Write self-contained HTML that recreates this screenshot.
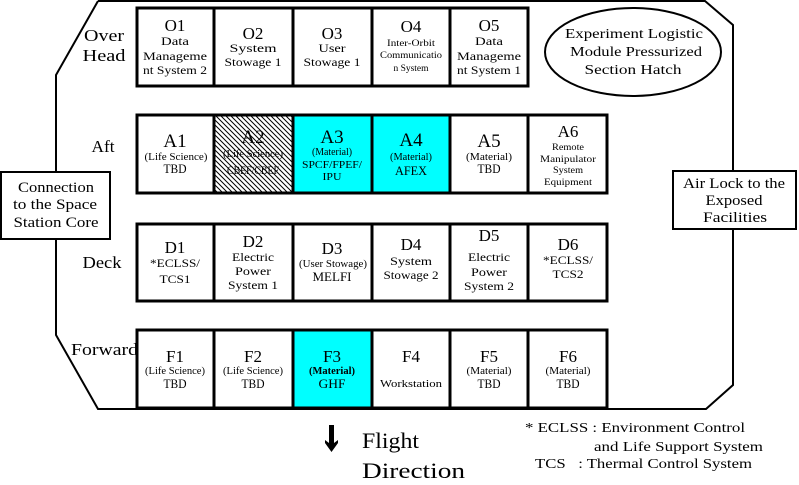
<!DOCTYPE html>
<html>
<head>
<meta charset="utf-8">
<style>
  html,body{margin:0;padding:0;background:#fff;}
  svg{display:block;}
  text{font-family:"Liberation Serif","Noto Serif CJK SC",serif;fill:#000;}
</style>
</head>
<body>
<svg width="799" height="485" viewBox="0 0 799 485" xmlns="http://www.w3.org/2000/svg" font-family="Liberation Serif, serif">
  <defs>
    <pattern id="hatch" patternUnits="userSpaceOnUse" width="5" height="5">
      <rect width="5" height="5" fill="#fff"/>
      <path d="M-1,-1 L6,6 M-1,4 L1,6 M4,-1 L6,1" stroke="#000" stroke-width="1"/>
    </pattern>
  </defs>

  <!-- outline of module -->
  <polyline points="98,1 705,1 733,25 733,385 706,409 98,409 56,335 56,75 98,1" fill="none" stroke="#000" stroke-width="2"/>

  <!-- fills -->
  <rect x="214" y="115" width="79" height="78" fill="url(#hatch)"/>
  <rect x="293" y="115" width="157" height="78" fill="#00ffff"/>
  <rect x="293" y="330" width="79" height="78" fill="#00ffff"/>

  <g fill="none" stroke="#000" stroke-width="3">
    <!-- O row -->
    <rect x="137" y="8" width="391" height="78"/>
    <line x1="214" y1="8" x2="214" y2="86"/>
    <line x1="293" y1="8" x2="293" y2="86"/>
    <line x1="372" y1="8" x2="372" y2="86"/>
    <line x1="450" y1="8" x2="450" y2="86"/>
    <!-- A row -->
    <rect x="137" y="115" width="470" height="78"/>
    <line x1="214" y1="115" x2="214" y2="193"/>
    <line x1="293" y1="115" x2="293" y2="193"/>
    <line x1="372" y1="115" x2="372" y2="193"/>
    <line x1="450" y1="115" x2="450" y2="193"/>
    <line x1="528" y1="115" x2="528" y2="193"/>
    <!-- D row -->
    <rect x="137" y="224" width="470" height="77"/>
    <line x1="214" y1="224" x2="214" y2="301"/>
    <line x1="293" y1="224" x2="293" y2="301"/>
    <line x1="372" y1="224" x2="372" y2="301"/>
    <line x1="450" y1="224" x2="450" y2="301"/>
    <line x1="528" y1="224" x2="528" y2="301"/>
    <!-- F row -->
    <rect x="137" y="330" width="470" height="78"/>
    <line x1="214" y1="330" x2="214" y2="408"/>
    <line x1="293" y1="330" x2="293" y2="408"/>
    <line x1="372" y1="330" x2="372" y2="408"/>
    <line x1="450" y1="330" x2="450" y2="408"/>
    <line x1="528" y1="330" x2="528" y2="408"/>
  </g>

  <!-- side boxes -->
  <rect x="1" y="172" width="109" height="67" fill="#fff" stroke="#000" stroke-width="2"/>
  <rect x="673" y="171" width="123" height="58" fill="#fff" stroke="#000" stroke-width="2"/>

  <!-- ellipse -->
  <ellipse cx="633" cy="52" rx="88" ry="44" fill="#fff" stroke="#000" stroke-width="2"/>

  <!-- row labels -->
  <text x="104" y="41" font-size="17" text-anchor="middle" textLength="40" lengthAdjust="spacingAndGlyphs">Over</text>
  <text x="104" y="61" font-size="17" text-anchor="middle" textLength="43" lengthAdjust="spacingAndGlyphs">Head</text>
  <text x="103" y="152" font-size="17" text-anchor="middle" textLength="23" lengthAdjust="spacingAndGlyphs">Aft</text>
  <text x="102" y="268" font-size="17" text-anchor="middle" textLength="39" lengthAdjust="spacingAndGlyphs">Deck</text>
  <text x="71" y="355" font-size="17" textLength="67" lengthAdjust="spacingAndGlyphs">Forward</text>

  <!-- side box text -->
  <g font-size="15" text-anchor="middle">
    <text x="56" y="192" textLength="76" lengthAdjust="spacingAndGlyphs">Connection</text>
    <text x="55" y="209" textLength="84" lengthAdjust="spacingAndGlyphs">to the Space</text>
    <text x="56" y="227" textLength="85" lengthAdjust="spacingAndGlyphs">Station Core</text>
    <text x="734" y="188" textLength="102" lengthAdjust="spacingAndGlyphs">Air Lock to the</text>
    <text x="734" y="205" textLength="57" lengthAdjust="spacingAndGlyphs">Exposed</text>
    <text x="735" y="222" textLength="64" lengthAdjust="spacingAndGlyphs">Facilities</text>
  </g>

  <!-- ellipse text -->
  <g font-size="14" text-anchor="middle">
    <text x="634" y="38" textLength="138" lengthAdjust="spacingAndGlyphs">Experiment Logistic</text>
    <text x="636" y="56" textLength="132" lengthAdjust="spacingAndGlyphs">Module Pressurized</text>
    <text x="633" y="74" textLength="97" lengthAdjust="spacingAndGlyphs">Section Hatch</text>
  </g>

  <!-- O row text -->
  <g text-anchor="middle">
    <text x="175" y="31" font-size="17">O1</text>
    <text x="175" y="45" font-size="12" textLength="28" lengthAdjust="spacingAndGlyphs">Data</text>
    <text x="175" y="60" font-size="12" textLength="64" lengthAdjust="spacingAndGlyphs">Manageme</text>
    <text x="175" y="74" font-size="12" textLength="64" lengthAdjust="spacingAndGlyphs">nt System 2</text>

    <text x="253" y="39" font-size="17">O2</text>
    <text x="253" y="52" font-size="12" textLength="47" lengthAdjust="spacingAndGlyphs">System</text>
    <text x="253" y="66" font-size="12" textLength="57" lengthAdjust="spacingAndGlyphs">Stowage 1</text>

    <text x="332" y="39" font-size="17">O3</text>
    <text x="332" y="52" font-size="12" textLength="27" lengthAdjust="spacingAndGlyphs">User</text>
    <text x="332" y="66" font-size="12" textLength="57" lengthAdjust="spacingAndGlyphs">Stowage 1</text>

    <text x="411" y="32" font-size="17">O4</text>
    <text x="411" y="46" font-size="9" textLength="48" lengthAdjust="spacingAndGlyphs">Inter-Orbit</text>
    <text x="411" y="58" font-size="9" textLength="62" lengthAdjust="spacingAndGlyphs">Communicatio</text>
    <text x="411" y="71" font-size="9" textLength="35" lengthAdjust="spacingAndGlyphs">n System</text>

    <text x="489" y="31" font-size="17">O5</text>
    <text x="489" y="45" font-size="12" textLength="28" lengthAdjust="spacingAndGlyphs">Data</text>
    <text x="489" y="60" font-size="12" textLength="64" lengthAdjust="spacingAndGlyphs">Manageme</text>
    <text x="489" y="74" font-size="12" textLength="64" lengthAdjust="spacingAndGlyphs">nt System 1</text>
  </g>

  <!-- A row text -->
  <g text-anchor="middle">
    <text x="175" y="147" font-size="19">A1</text>
    <text x="176" y="160" font-size="10" textLength="63" lengthAdjust="spacingAndGlyphs">(Life Science)</text>
    <text x="175" y="173" font-size="13" textLength="23" lengthAdjust="spacingAndGlyphs">TBD</text>

    <text x="253" y="143" font-size="19">A2</text>
    <text x="253" y="157" font-size="10" textLength="60" lengthAdjust="spacingAndGlyphs">(Life Science)</text>
    <text x="253" y="174" font-size="12" textLength="52" lengthAdjust="spacingAndGlyphs">CBEF/CBEF</text>

    <text x="332" y="143" font-size="19">A3</text>
    <text x="332" y="155" font-size="10" textLength="40" lengthAdjust="spacingAndGlyphs">(Material)</text>
    <text x="332" y="168" font-size="10" textLength="60" lengthAdjust="spacingAndGlyphs">SPCF/FPEF/</text>
    <text x="332" y="180" font-size="10" textLength="19" lengthAdjust="spacingAndGlyphs">IPU</text>

    <text x="411" y="146" font-size="19">A4</text>
    <text x="411" y="160" font-size="10" textLength="42" lengthAdjust="spacingAndGlyphs">(Material)</text>
    <text x="411" y="175" font-size="13" textLength="32" lengthAdjust="spacingAndGlyphs">AFEX</text>

    <text x="489" y="147" font-size="19">A5</text>
    <text x="489" y="160" font-size="10" textLength="46" lengthAdjust="spacingAndGlyphs">(Material)</text>
    <text x="489" y="173" font-size="13" textLength="23" lengthAdjust="spacingAndGlyphs">TBD</text>

    <text x="568" y="137" font-size="17">A6</text>
    <text x="568" y="150" font-size="9" textLength="32" lengthAdjust="spacingAndGlyphs">Remote</text>
    <text x="568" y="162" font-size="9" textLength="56" lengthAdjust="spacingAndGlyphs">Manipulator</text>
    <text x="568" y="173" font-size="9" textLength="30" lengthAdjust="spacingAndGlyphs">System</text>
    <text x="568" y="185" font-size="9" textLength="48" lengthAdjust="spacingAndGlyphs">Equipment</text>
  </g>

  <!-- D row text -->
  <g text-anchor="middle">
    <text x="175" y="253" font-size="17">D1</text>
    <text x="175" y="267" font-size="12" textLength="50" lengthAdjust="spacingAndGlyphs">*ECLSS/</text>
    <text x="175" y="283" font-size="12" textLength="31" lengthAdjust="spacingAndGlyphs">TCS1</text>

    <text x="253" y="247" font-size="17">D2</text>
    <text x="253" y="261" font-size="12" textLength="42" lengthAdjust="spacingAndGlyphs">Electric</text>
    <text x="253" y="275" font-size="12" textLength="36" lengthAdjust="spacingAndGlyphs">Power</text>
    <text x="253" y="289" font-size="12" textLength="50" lengthAdjust="spacingAndGlyphs">System 1</text>

    <text x="332" y="254" font-size="17">D3</text>
    <text x="333" y="267" font-size="10" textLength="68" lengthAdjust="spacingAndGlyphs">(User Stowage)</text>
    <text x="332" y="281" font-size="13" textLength="39" lengthAdjust="spacingAndGlyphs">MELFI</text>

    <text x="411" y="250" font-size="17">D4</text>
    <text x="411" y="265" font-size="12" textLength="42" lengthAdjust="spacingAndGlyphs">System</text>
    <text x="411" y="279" font-size="12" textLength="55" lengthAdjust="spacingAndGlyphs">Stowage 2</text>

    <text x="489" y="241" font-size="17">D5</text>
    <text x="489" y="261" font-size="12" textLength="42" lengthAdjust="spacingAndGlyphs">Electric</text>
    <text x="489" y="276" font-size="12" textLength="36" lengthAdjust="spacingAndGlyphs">Power</text>
    <text x="489" y="290" font-size="12" textLength="50" lengthAdjust="spacingAndGlyphs">System 2</text>

    <text x="568" y="250" font-size="17">D6</text>
    <text x="568" y="264" font-size="12" textLength="50" lengthAdjust="spacingAndGlyphs">*ECLSS/</text>
    <text x="568" y="278" font-size="12" textLength="31" lengthAdjust="spacingAndGlyphs">TCS2</text>
  </g>

  <!-- F row text -->
  <g text-anchor="middle">
    <text x="175" y="362" font-size="17">F1</text>
    <text x="175" y="374" font-size="10" textLength="60" lengthAdjust="spacingAndGlyphs">(Life Science)</text>
    <text x="175" y="388" font-size="13" textLength="23" lengthAdjust="spacingAndGlyphs">TBD</text>

    <text x="253" y="362" font-size="17">F2</text>
    <text x="253" y="374" font-size="10" textLength="60" lengthAdjust="spacingAndGlyphs">(Life Science)</text>
    <text x="253" y="388" font-size="13" textLength="23" lengthAdjust="spacingAndGlyphs">TBD</text>

    <text x="332" y="362" font-size="17">F3</text>
    <text x="332" y="374" font-size="10" font-weight="bold" textLength="46" lengthAdjust="spacingAndGlyphs">(Material)</text>
    <text x="332" y="388" font-size="13" textLength="27" lengthAdjust="spacingAndGlyphs">GHF</text>

    <text x="411" y="362" font-size="17">F4</text>
    <text x="411" y="387" font-size="11" textLength="62" lengthAdjust="spacingAndGlyphs">Workstation</text>

    <text x="489" y="362" font-size="17">F5</text>
    <text x="489" y="374" font-size="10" textLength="45" lengthAdjust="spacingAndGlyphs">(Material)</text>
    <text x="489" y="388" font-size="13" textLength="23" lengthAdjust="spacingAndGlyphs">TBD</text>

    <text x="568" y="362" font-size="17">F6</text>
    <text x="568" y="374" font-size="10" textLength="45" lengthAdjust="spacingAndGlyphs">(Material)</text>
    <text x="568" y="388" font-size="13" textLength="23" lengthAdjust="spacingAndGlyphs">TBD</text>
  </g>

  <!-- flight direction arrow -->
  <path d="M329,425 L334,425 L334,443 L338,440 L338,443 L331.5,452 L325,443 L325,440 L329,443 Z" fill="#000"/>
  <text x="362" y="448" font-size="22" textLength="57" lengthAdjust="spacingAndGlyphs">Flight</text>
  <text x="362" y="478" font-size="22" textLength="103" lengthAdjust="spacingAndGlyphs">Direction</text>

  <!-- legend -->
  <g font-size="14">
    <text x="525" y="432" textLength="220" lengthAdjust="spacingAndGlyphs">* ECLSS : Environment Control</text>
    <text x="594" y="451" textLength="169" lengthAdjust="spacingAndGlyphs">and Life Support System</text>
    <text x="535" y="468" textLength="217" lengthAdjust="spacingAndGlyphs" xml:space="preserve">TCS   : Thermal Control System</text>
  </g>
</svg>
</body>
</html>
